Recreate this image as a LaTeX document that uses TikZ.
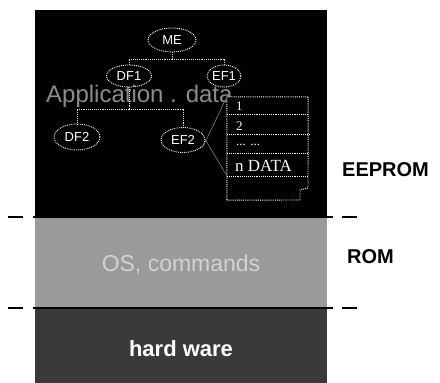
\documentclass[tikz,border=0pt]{standalone}
\usepackage{fontspec}
\setmainfont{Liberation Sans}
\newfontfamily\serifface{Liberation Serif}
\usetikzlibrary{shapes.geometric}
\definecolor{romgray}{HTML}{9A9A9A}
\definecolor{hwgray}{HTML}{3A3A3A}
\definecolor{ostext}{HTML}{D2D2D2}
\definecolor{apptext}{HTML}{8C8C8C}
\tikzset{
  efnode/.style={ellipse, draw=white, densely dotted, line width=0.9pt, text=white, inner sep=0pt, font=\fontsize{13}{13}\selectfont},
  treeline/.style={draw=white!85!black, densely dotted, line width=0.9pt},
  sep/.style={line width=2.6pt, black},
  rowline/.style={draw=white, densely dotted, line width=0.9pt},
  rowtext/.style={anchor=west, text=white, inner sep=0pt, font=\serifface\fontsize{13}{13}\selectfont},
  sidelabel/.style={font=\bfseries\fontsize{20}{20}\selectfont, inner sep=0pt},
  callout/.style={draw=white!55!black, line width=0.5pt}
}
\begin{document}
\begin{tikzpicture}[x=1pt,y=-1pt]
\useasboundingbox (0,0) rectangle (440,383);
% layers
\fill[black] (35,10) rectangle (327,217);
\fill[romgray] (35,217) rectangle (327,308);
\fill[hwgray] (35,308) rectangle (327,383);
% separators
\draw[sep] (8,217) -- (23,217);
\draw[sep] (33,217) -- (333,217);
\draw[sep] (342,217) -- (357,217);
\draw[sep] (8,308) -- (23,308);
\draw[sep] (33,308) -- (333,308);
\draw[sep] (342,308) -- (357,308);
% application data text
\node (app) [text=apptext, font=\fontsize{24}{24}\selectfont, inner sep=0pt, anchor=west] at (46,96) {Application . data};
% tree
\node (ME) [efnode, minimum width=48pt, minimum height=24pt] at (172,40) {ME};
\node (DF1) [efnode, minimum width=45pt, minimum height=22pt] at (129,76) {DF1};
\node (EF1) [efnode, minimum width=34pt, minimum height=22pt] at (224,76) {EF1};
\node (DF2) [efnode, minimum width=46pt, minimum height=26pt] at (77,137) {DF2};
\node (EF2) [efnode, minimum width=44pt, minimum height=25pt] at (183,140) {EF2};
\coordinate (j1) at (172,59);
\coordinate (j2) at (129,109);
\draw[treeline] (ME.south) -- (j1);
\draw[treeline] (j1) -| (DF1.north);
\draw[treeline] (j1) -| (EF1.north);
\draw[treeline] (DF1.south) -- (j2);
\draw[treeline] (j2) -| (DF2.north);
\draw[treeline] (j2) -| (EF2.north);
% data box
\node (box) [minimum width=81pt, minimum height=103pt, inner sep=0pt] at (267.5,148.5) {};
\fill[black] (227,97) rectangle (308,200);
\draw[rowline] (box.north west) -- (box.north east) -- (308,188) -- (300,190) -- (300,200) -- (box.south west) -- cycle;
\draw[rowline] (227,114) -- (308,114);
\draw[rowline] (227,134) -- (310,134);
\draw[rowline] (227,153) -- (308,153);
\draw[rowline] (227,176) -- (308,176);
\node (r1) [rowtext] at (236,106) {1};
\node (r2) [rowtext] at (236,126) {2};
\node (r3) [rowtext] at (236,145) {... ...};
\node (r4) [rowtext, font=\serifface\fontsize{17}{17}\selectfont] at (235,166) {n DATA};
\coordinate (c1) at (227,176);
\draw[callout] (EF2.east) ++(-3,8) -- (box.north west);
\draw[callout] (EF2.east) -- (c1);
% layer texts
\node (os) [text=ostext, font=\fontsize{23}{23}\selectfont, inner sep=0pt] at (181,265) {OS, commands};
\node (hw) [text=white, font=\bfseries\fontsize{22}{22}\selectfont, inner sep=0pt] at (181,349) {hard ware};
% side labels
\node (eeprom) [sidelabel, anchor=west] at (342,170) {EEPROM};
\node (rom) [sidelabel, anchor=west] at (347,257) {ROM};
\end{tikzpicture}
\end{document}
